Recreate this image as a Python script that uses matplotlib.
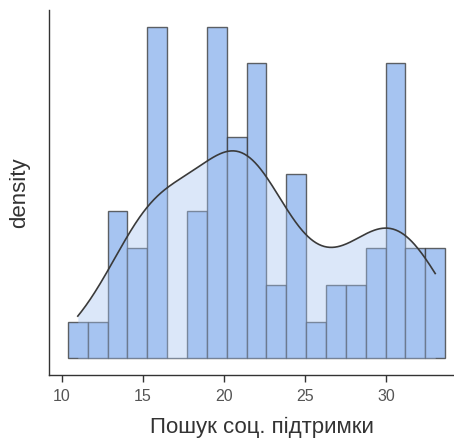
import numpy as np
import matplotlib
matplotlib.use("Agg")
import matplotlib.pyplot as plt

# score values and how many respondents got each
scores = [11, 12, 13, 14, 15, 16, 17, 18, 19, 20, 21, 22,
          23, 24, 25, 26, 27, 28, 29, 30, 31, 32, 33]
freq = [1, 1, 1, 3, 3, 9, 0, 4, 4, 5, 6, 8,
        2, 2, 3, 1, 2, 2, 3, 5, 3, 3, 3]
n_bins = 19
xticks = [10, 15, 20, 25, 30]
xlabel = "Пошук соц. підтримки"
ylabel = "density"

plt.rcParams['font.family'] = ['Liberation Sans', 'DejaVu Sans']

sample = np.repeat(np.array(scores, dtype=float), freq)
width = (sample.max() - sample.min()) / (n_bins - 1)
edges = sample.min() - width / 2 + width * np.arange(n_bins + 1)

# gaussian density, bw.nrd0 style
sd = sample.std(ddof=1)
iqr = np.subtract(*np.percentile(sample, [75, 25]))
bw = 0.9 * min(sd, iqr / 1.34) * len(sample) ** -0.2
xs = np.linspace(sample.min(), sample.max(), 400)
kde = np.exp(-0.5 * ((xs[:, None] - sample[None, :]) / bw) ** 2).sum(axis=1)
kde = kde / (len(sample) * bw * np.sqrt(2 * np.pi))

fig = plt.figure(figsize=(4.54, 4.41), dpi=100)
lo, hi = edges[0], edges[-1]
pad = (hi - lo) * 0.05
ax = fig.add_axes([49 / 454, 1 - 375 / 441, (464 - 49) / 454, (375 - 10) / 441])

dens, _, _ = ax.hist(sample, bins=edges, density=True, color='#a6c4f1',
                     edgecolor=(0.2, 0.2, 0.2, 0.75), linewidth=1.0, zorder=2)
ax.fill_between(xs, 0, kde, color='#a6c4f1', alpha=0.4, linewidth=0, zorder=3)
ax.plot(xs, kde, color='#3a3a3a', linewidth=1.2, zorder=4)

ymax = dens.max()
ax.set_xlim(lo - pad, hi + pad)
ax.set_ylim(-0.05 * ymax, 1.05 * ymax)
ax.set_xticks(xticks)
ax.set_yticks([])
for s in ['top', 'right']:
    ax.spines[s].set_visible(False)
for s in ['left', 'bottom']:
    ax.spines[s].set_color('#333333')
    ax.spines[s].set_linewidth(1.0)
ax.tick_params(axis='x', length=5, width=1, color='#333333', labelsize=11.5,
               labelcolor='#555555', pad=5)
ax.set_xlabel(xlabel, fontsize=16, color='#333333')
ax.set_ylabel(ylabel, fontsize=16, color='#333333')
ax.xaxis.set_label_coords(0.513, -0.115)
ax.yaxis.set_label_coords(-0.046, 0.5)

fig.savefig("out.png", dpi=100)
